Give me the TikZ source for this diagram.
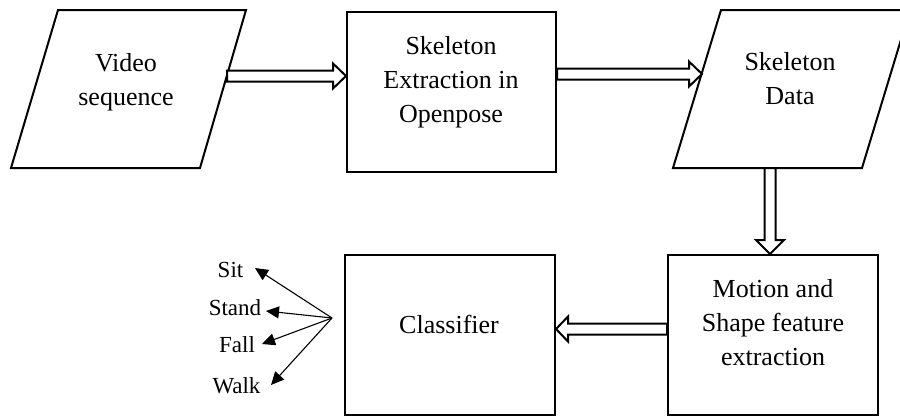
\documentclass[tikz,border=0pt]{standalone}
\usepackage{fontspec}
\setmainfont{Liberation Serif}
\usetikzlibrary{calc,arrows.meta}
\tikzset{
  box/.style={draw, line width=1pt, rectangle, inner sep=0pt, minimum width=#1, minimum height=80pt},
  box/.default=105pt,
  para/.style={draw, line width=1pt, line join=miter},
  txt/.style={font=\fontsize{13pt}{17pt}\selectfont, align=center, anchor=base, inner sep=0pt},
  lbl/.style={font=\fontsize{11.5pt}{14pt}\selectfont, anchor=base, inner sep=0pt},
  hollow/.style={draw, fill=white, line width=1pt, line join=miter},
  thin arrow/.style={line width=0.55pt, -{Triangle[length=6.5pt,width=6pt]}}
}
\newcommand\harrowR[2]{\draw[hollow] ($(#1)+(0,-5.5)$) -- ($(#2)+(-13,-5.5)$) -- ($(#2)+(-13,-12.5)$) -- (#2) -- ($(#2)+(-13,12.5)$) -- ($(#2)+(-13,5.5)$) -- ($(#1)+(0,5.5)$) -- cycle;}
\newcommand\harrowL[2]{\draw[hollow] ($(#1)+(0,-5.5)$) -- ($(#2)+(12,-5.5)$) -- ($(#2)+(12,-12.5)$) -- (#2) -- ($(#2)+(12,12.5)$) -- ($(#2)+(12,5.5)$) -- ($(#1)+(0,5.5)$) -- cycle;}
\newcommand\harrowD[2]{\draw[hollow] ($(#1)+(-5.5,0)$) -- ($(#2)+(-5.5,-14)$) -- ($(#2)+(-14,-14)$) -- (#2) -- ($(#2)+(14,-14)$) -- ($(#2)+(5.5,-14)$) -- ($(#1)+(5.5,0)$) -- cycle;}
\begin{document}
\begin{tikzpicture}[x=0.5pt,y=-0.5pt]
\clip (0,0) rectangle (900,418);
\fill[white] (0,0) rectangle (900,418);
% shapes
\draw[para] (58,10) -- (246,10) -- (200,168) -- (11,168) -- cycle;
\node[box=104.5pt] (extract) at (451.5,92) {};
\draw[para] (721,10) -- (910,10) -- (862,168) -- (673,168) -- cycle;
\node[box=105pt] (motion) at (773,335) {};
\node[box=105pt] (classifier) at (450,335) {};
% texts (anchor = baseline of the last line)
\node[txt] (video) at (126,105) {Video\\sequence};
\node[txt] (extracttxt) at (451,122) {Skeleton\\Extraction in\\Openpose};
\node[txt] (skeldata) at (790,104) {Skeleton\\Data};
\node[txt] (motiontxt) at (773,365) {Motion and\\Shape feature\\extraction};
\node[txt] (classtxt) at (449,333) {Classifier};
% connection points
\coordinate (v1) at (227,76);
\coordinate (e1) at (extract.west |- v1);
\coordinate (e2) at ($(extract.east)+(0,-18)$);
\coordinate (s1) at (702,74);
\coordinate (s2) at (770,168);
\coordinate (m1) at (motion.north -| s2);
\coordinate (m2) at ($(motion.west)+(0,-6)$);
\coordinate (c1) at (classifier.east |- m2);
\harrowR{v1}{e1}
\harrowR{e2}{s1 |- e2}
\harrowD{s2}{m1}
\harrowL{m2}{c1}
% outputs
\node[lbl] (sit) at (230.5,277) {Sit};
\node[lbl] (stand) at (235,315) {Stand};
\node[lbl] (fall) at (237,352) {Fall};
\node[lbl] (walk) at (236.5,393) {Walk};
\coordinate (src) at (332,318);
\coordinate (tsit) at (255,268);
\coordinate (tstand) at (266,311);
\coordinate (tfall) at (262,344);
\coordinate (twalk) at (271,385);
\draw[thin arrow] (src) -- (tsit);
\draw[thin arrow] (src) -- (tstand);
\draw[thin arrow] (src) -- (tfall);
\draw[thin arrow] (src) -- (twalk);
\end{tikzpicture}
\end{document}
